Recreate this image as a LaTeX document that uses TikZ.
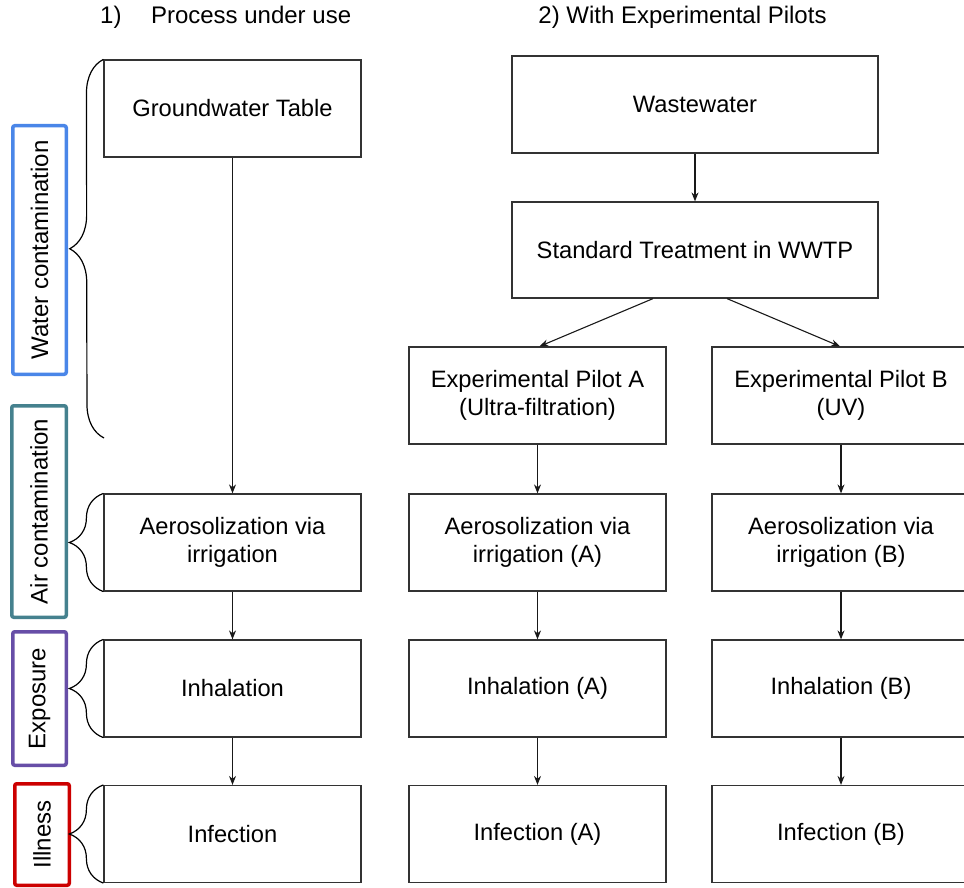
\documentclass[tikz,border=0pt]{standalone}
\usepackage{fontspec}
\setmainfont{Liberation Sans}
\usetikzlibrary{arrows.meta,decorations.pathreplacing}
\definecolor{cwater}{HTML}{4A86E8}
\definecolor{cair}{HTML}{45818E}
\definecolor{cexp}{HTML}{674EA7}
\definecolor{cill}{HTML}{CC0000}
\begin{document}
\begin{tikzpicture}[x=1pt,y=-1pt,
  box/.style={draw=black!80, line width=1.2pt, rectangle, inner sep=0pt, align=center,
    font=\fontsize{23.7}{28}\selectfont},
  colbox/.style={draw=#1, line width=3.5pt, rounded corners=2pt, inner sep=0pt, rotate=90,
    font=\fontsize{24}{28}\selectfont},
  arr/.style={-{Stealth[length=9pt,width=7pt]}, line width=1.1pt, black!90},
  brc/.style={decorate, decoration={brace, amplitude=34pt}, line width=1.2pt},
  ttl/.style={inner sep=0pt, font=\fontsize{24}{28}\selectfont}]
\useasboundingbox (0,0) rectangle (964,888);

% titles
\node[ttl, anchor=base west] (t1) at (100,23.5) {1)\hspace{29.5pt}Process under use};
\node[ttl, anchor=base] (t2) at (682.5,23.5) {2) With Experimental Pilots};

% left column
\node[box, minimum width=257pt, minimum height=97pt] (gw) at (232.5,108.5) {Groundwater Table};
\node[box, minimum width=257pt, minimum height=97pt] (aero) at (232.5,542.5) {Aerosolization via\\irrigation};
\node[box, minimum width=257pt, minimum height=97pt] (inh) at (232.5,688.5) {Inhalation};
\node[box, minimum width=257pt, minimum height=97pt] (inf) at (232.5,834) {Infection};

% right part
\node[box, minimum width=366pt, minimum height=97pt] (ww) at (695,104.5) {Wastewater};
\node[box, minimum width=366pt, minimum height=96pt] (std) at (695,250) {Standard Treatment in WWTP};

\node[box, minimum width=257pt, minimum height=97pt] (pa) at (537.5,395.5) {Experimental Pilot A\\(Ultra-filtration)};
\node[box, minimum width=257pt, minimum height=97pt] (aa) at (537.5,542.5) {Aerosolization via\\irrigation (A)};
\node[box, minimum width=257pt, minimum height=97pt] (ia) at (537.5,688.5) {Inhalation (A)};
\node[box, minimum width=257pt, minimum height=97pt] (fa) at (537.5,834) {Infection (A)};

\node[box, minimum width=258pt, minimum height=97pt] (pb) at (841,395.5) {Experimental Pilot B\\(UV)};
\node[box, minimum width=258pt, minimum height=97pt] (ab) at (841,542.5) {Aerosolization via\\irrigation (B)};
\node[box, minimum width=258pt, minimum height=97pt] (ib) at (841,688.5) {Inhalation (B)};
\node[box, minimum width=258pt, minimum height=97pt] (fb) at (841,834) {Infection (B)};

% arrows
\draw[arr] (gw) -- (aero);
\draw[arr] (aero) -- (inh);
\draw[arr] (inh) -- (inf);
\draw[arr] (ww) -- (std);
\draw[arr] ([xshift=-42pt]std.south) -- ([xshift=2pt]pa.north);
\draw[arr] ([xshift=32pt]std.south) -- ([xshift=-1pt]pb.north);
\draw[arr] (pa) -- (aa);
\draw[arr] (aa) -- (ia);
\draw[arr] (ia) -- (fa);
\draw[arr] (pb) -- (ab);
\draw[arr] (ab) -- (ib);
\draw[arr] (ib) -- (fb);

% category labels
\node[colbox=cwater, minimum width=248.5pt, minimum height=53.5pt] (lw) at (39.5,250) {Water contamination};
\node[colbox=cair, minimum width=211.5pt, minimum height=54.5pt] (la) at (39,511.5) {Air contamination};
\node[colbox=cexp, minimum width=133.5pt, minimum height=53.5pt] (le) at (39.5,698.5) {Exposure};
\node[colbox=cill, minimum width=101.5pt, minimum height=54.5pt] (li) at (42,834.5) {Illness};

% braces
\coordinate (wbot) at (104,438);
\draw[brc] (wbot) -- (gw.north west);
\draw[brc] (aero.south west) -- (aero.north west);
\draw[brc] (inh.south west) -- (inh.north west);
\draw[brc] (inf.south west) -- (inf.north west);
\end{tikzpicture}
\end{document}
